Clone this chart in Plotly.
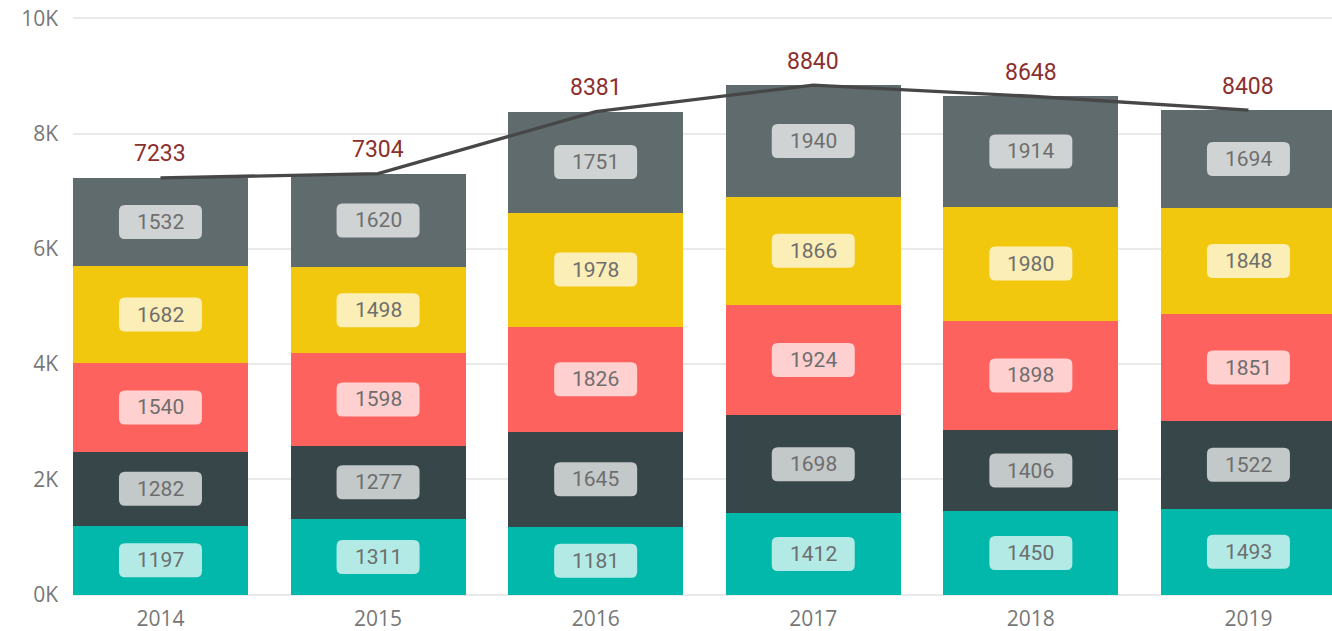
import plotly.graph_objects as go

years = ["2014", "2015", "2016", "2017", "2018", "2019"]
series_names = ["S1", "S2", "S3", "S4", "S5"]
s1 = [1197, 1311, 1181, 1412, 1450, 1493]
s2 = [1282, 1277, 1645, 1698, 1406, 1522]
s3 = [1540, 1598, 1826, 1924, 1898, 1851]
s4 = [1682, 1498, 1978, 1866, 1980, 1848]
s5 = [1532, 1620, 1751, 1940, 1914, 1694]
totals = [7233, 7304, 8381, 8840, 8648, 8408]

colors = ["#01B8AA", "#374649", "#FD625E", "#F2C80F", "#5F6B6D"]


def lighten(hexc, f=0.7):
    r, g, b = int(hexc[1:3], 16), int(hexc[3:5], 16), int(hexc[5:7], 16)
    r, g, b = [round(c * (1 - f) + 255 * f) for c in (r, g, b)]
    return f"rgb({r},{g},{b})"


all_series = [s1, s2, s3, s4, s5]
xi = list(range(len(years)))

fig = go.Figure()
for name, vals, col in zip(series_names, all_series, colors):
    fig.add_trace(go.Bar(x=xi, y=vals, name=name, marker=dict(color=col, line=dict(width=0)),
                         hoverinfo="skip"))

fig.add_trace(go.Scatter(x=xi, y=totals, mode="lines", line=dict(color="#474747", width=3.3),
                         hoverinfo="skip", showlegend=False))

shapes = []
annotations = []
W, H, R = 41.5, 17, 6
path = (f"M {-W+R},{-H} L {W-R},{-H} Q {W},{-H} {W},{-H+R} L {W},{H-R} Q {W},{H} {W-R},{H} "
        f"L {-W+R},{H} Q {-W},{H} {-W},{H-R} L {-W},{-H+R} Q {-W},{-H} {-W+R},{-H} Z")
for i in xi:
    base = 0
    for vals, col in zip(all_series, colors):
        mid = base + vals[i] / 2
        shapes.append(dict(type="path", xref="x", yref="y", xsizemode="pixel", ysizemode="pixel",
                           xanchor=i, yanchor=mid, path=path, fillcolor=lighten(col),
                           line=dict(width=0), layer="above"))
        annotations.append(dict(x=i, y=mid, xref="x", yref="y", text=str(vals[i]), showarrow=False,
                                font=dict(family="Roboto, DejaVu Sans", size=21, color="#6E6E6E")))
        base += vals[i]
    annotations.append(dict(x=i, y=totals[i], xref="x", yref="y", text=str(totals[i]), showarrow=False,
                            yshift=24, font=dict(family="Roboto, DejaVu Sans", size=23, color="#8B2F2F")))

fig.update_layout(
    barmode="stack",
    bargap=0.196,
    width=1332, height=631,
    margin=dict(l=73, r=0, t=16, b=34),
    plot_bgcolor="white", paper_bgcolor="white",
    showlegend=False,
    shapes=shapes,
    annotations=annotations,
    xaxis=dict(tickmode="array", tickvals=xi, ticktext=years, range=[-0.402, 5.384],
               showgrid=False, zeroline=False, showline=False,
               tickfont=dict(family="Open Sans, DejaVu Sans", size=21, color="#777777"),
               ticklabelstandoff=7),
    yaxis=dict(range=[-40, 10040], tickvals=[0, 2000, 4000, 6000, 8000, 10000],
               ticktext=["0K", "2K", "4K", "6K", "8K", "10K"],
               showgrid=True, gridcolor="#E9E9E9", gridwidth=2, zeroline=False,
               tickfont=dict(family="Open Sans, DejaVu Sans", size=21, color="#777777"),
               ticklabelstandoff=14),
)

fig.write_html("out.html", config={"displayModeBar": False},
               post_script="document.body.style.margin='0px';")
